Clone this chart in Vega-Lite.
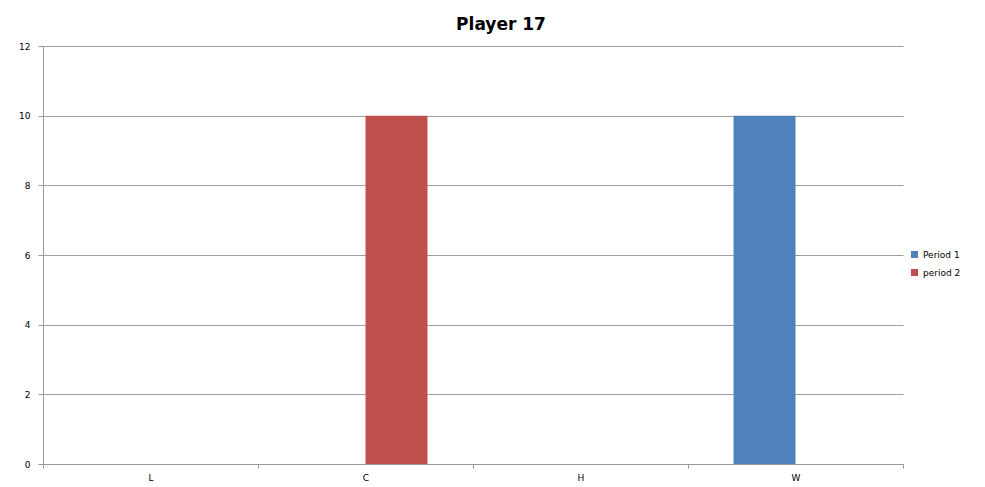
{
  "$schema": "https://vega.github.io/schema/vega-lite/v6.json",
  "width": 860,
  "height": 418,
  "padding": {"left": 43, "top": 46, "right": 82, "bottom": 23},
  "autosize": {"type": "none"},
  "background": "white",
  "title": {
    "text": "Player 17",
    "font": "DejaVu Sans",
    "fontSize": 17,
    "fontWeight": "bold",
    "color": "#000000",
    "anchor": "middle",
    "dx": 28,
    "offset": 8
  },
  "data": {
    "values": [
      {"category": "L", "series": "Period 1", "value": 0},
      {"category": "L", "series": "period 2", "value": 0},
      {"category": "C", "series": "Period 1", "value": 0},
      {"category": "C", "series": "period 2", "value": 10},
      {"category": "H", "series": "Period 1", "value": 0},
      {"category": "H", "series": "period 2", "value": 0},
      {"category": "W", "series": "Period 1", "value": 10},
      {"category": "W", "series": "period 2", "value": 0}
    ]
  },
  "mark": {"type": "bar"},
  "encoding": {
    "x": {
      "field": "category",
      "type": "nominal",
      "sort": ["L", "C", "H", "W"],
      "scale": {"paddingInner": 0, "paddingOuter": 0},
      "axis": {
        "title": null,
        "labelAngle": 0,
        "tickBand": "extent",
        "grid": false,
        "domainColor": "#999999",
        "tickColor": "#999999",
        "tickSize": 4,
        "labelPadding": 5,
        "labelFont": "DejaVu Sans",
        "labelFontSize": 9,
        "labelColor": "#000000"
      }
    },
    "xOffset": {
      "field": "series",
      "type": "nominal",
      "sort": ["Period 1", "period 2"],
      "scale": {"paddingInner": 0, "paddingOuter": 0.734}
    },
    "y": {
      "field": "value",
      "type": "quantitative",
      "scale": {"domain": [0, 12], "nice": false},
      "axis": {
        "title": null,
        "values": [0, 2, 4, 6, 8, 10, 12],
        "grid": true,
        "gridColor": "#a0a0a0",
        "domainColor": "#999999",
        "tickColor": "#999999",
        "tickSize": 5,
        "labelPadding": 8,
        "labelFont": "DejaVu Sans",
        "labelFontSize": 9,
        "labelColor": "#000000"
      }
    },
    "color": {
      "field": "series",
      "type": "nominal",
      "sort": ["Period 1", "period 2"],
      "scale": {"domain": ["Period 1", "period 2"], "range": ["#4F81BD", "#C0504D"]},
      "legend": {
        "title": null,
        "orient": "none",
        "legendX": 867,
        "legendY": 204,
        "symbolType": "square",
        "symbolSize": 50,
        "symbolStrokeWidth": 0,
        "labelFont": "DejaVu Sans",
        "labelFontSize": 9,
        "labelColor": "#000000",
        "rowPadding": 8,
        "labelOffset": 4
      }
    }
  },
  "config": {
    "view": {"stroke": null},
    "axis": {"domainWidth": 1, "gridWidth": 1}
  }
}
